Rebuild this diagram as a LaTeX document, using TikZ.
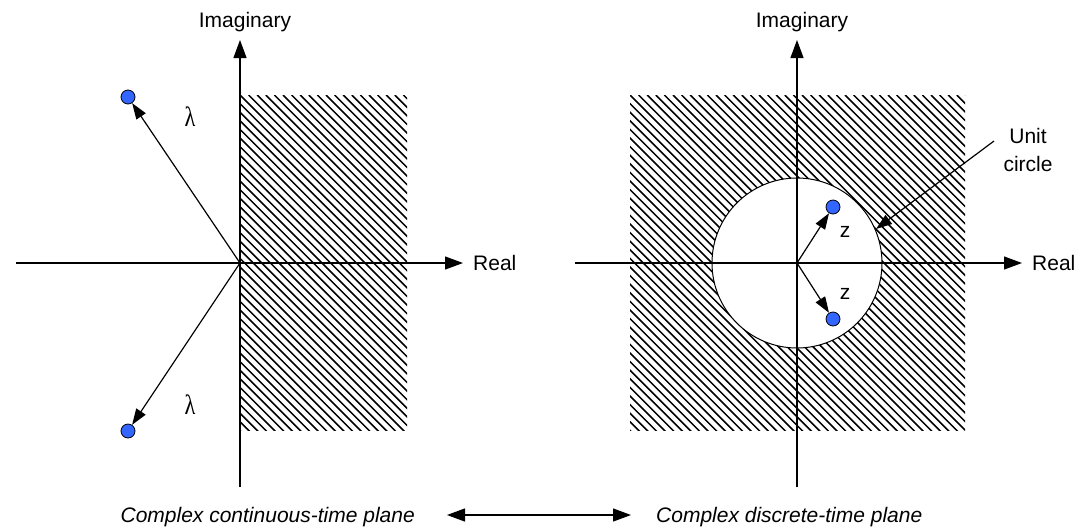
\documentclass[tikz,border=0pt]{standalone}
\usepackage{fontspec}
\setmainfont{Liberation Sans}
\newfontfamily\lamfont{Liberation Serif}
\usetikzlibrary{arrows.meta}
\definecolor{dotblue}{RGB}{51,102,255}
\tikzset{
  axis/.style={line width=1.2pt,-{Triangle[length=18pt,width=13pt]}},
  vec/.style={line width=1.2pt,-{Triangle[length=16pt,width=11pt]}},
  dbl/.style={line width=1.2pt,{Triangle[length=18pt,width=13pt]}-{Triangle[length=18pt,width=13pt]}},
  hatch/.style={line width=1.5pt,black},
  pole/.style={circle,draw=black,line width=0.8pt,fill=dotblue,minimum size=14pt,inner sep=0pt},
  lbl/.style={inner sep=0pt,font=\fontsize{21}{25}\selectfont},
  captxt/.style={inner sep=0pt,font=\fontsize{21}{25}\selectfont\itshape},
  lam/.style={inner sep=0pt,xscale=0.8,font=\fontsize{28}{32}\selectfont\lamfont},
}
\begin{document}
\begin{tikzpicture}[x=1pt,y=-1pt]
\useasboundingbox (0,0) rectangle (1092,528);
% hatching left
\begin{scope}
  \clip (240,95) rectangle (407,430);
  \foreach \i in {-45,...,25} \draw[hatch] (240+\i*8.6,95) -- ++(400,400);
\end{scope}
% hatching right
\begin{scope}
  \clip (630,95) rectangle (965,430);
  \foreach \i in {-45,...,45} \draw[hatch] (630+\i*8.6,95) -- ++(400,400);
\end{scope}
\node[circle,draw=black,fill=white,line width=1pt,minimum size=170pt,inner sep=0pt] (uc) at (797,263) {};
% left plane
\coordinate (o1) at (240,263);
\coordinate (l1L) at (16,263);
\coordinate (l1R) at (463,263);
\coordinate (l1B) at (240,487);
\coordinate (l1T) at (240,40);
\draw[axis] (l1L) -- (l1R);
\draw[axis] (l1B) -- (l1T);
\node[lbl,anchor=west] (re1) at (473,263) {Real};
\node[lbl,anchor=base] (im1) at (245,27) {Imaginary};
\node[pole] (p1) at (128,97) {};
\node[pole] (p2) at (128,431) {};
\draw[vec] (o1) -- (p1);
\draw[vec] (o1) -- (p2);
\node[lam] (lam1) at (190,117) {λ};
\node[lam] (lam2) at (190,405) {λ};
% right plane
\coordinate (o2) at (797,263);
\coordinate (l2L) at (575,263);
\coordinate (l2R) at (1022,263);
\coordinate (l2B) at (797,487);
\coordinate (l2T) at (797,40);
\draw[axis] (l2L) -- (l2R);
\draw[axis] (l2B) -- (l2T);
\node[lbl,anchor=west] (re2) at (1032,263) {Real};
\node[lbl,anchor=base] (im2) at (802,27) {Imaginary};
\node[pole] (z1) at (833,207) {};
\node[pole] (z2) at (833,319) {};
\draw[vec] (o2) -- (z1);
\draw[vec] (o2) -- (z2);
\node[lbl] (zl1) at (845,232) {z};
\node[lbl] (zl2) at (845,294) {z};
\node[lbl,align=center,font=\fontsize{21}{28}\selectfont] (uct) at (1028,150) {Unit\\circle};
\coordinate (ucs) at (994,141);
\coordinate (uce) at (876,229);
\draw[vec] (ucs) -- (uce);
% captions
\node[captxt,anchor=base east] (c1) at (415,522) {Complex continuous-time plane};
\node[captxt,anchor=base west] (c2) at (656,522) {Complex discrete-time plane};
\coordinate (da) at (447,515);
\coordinate (db) at (631,515);
\draw[dbl] (da) -- (db);
\end{tikzpicture}
\end{document}
